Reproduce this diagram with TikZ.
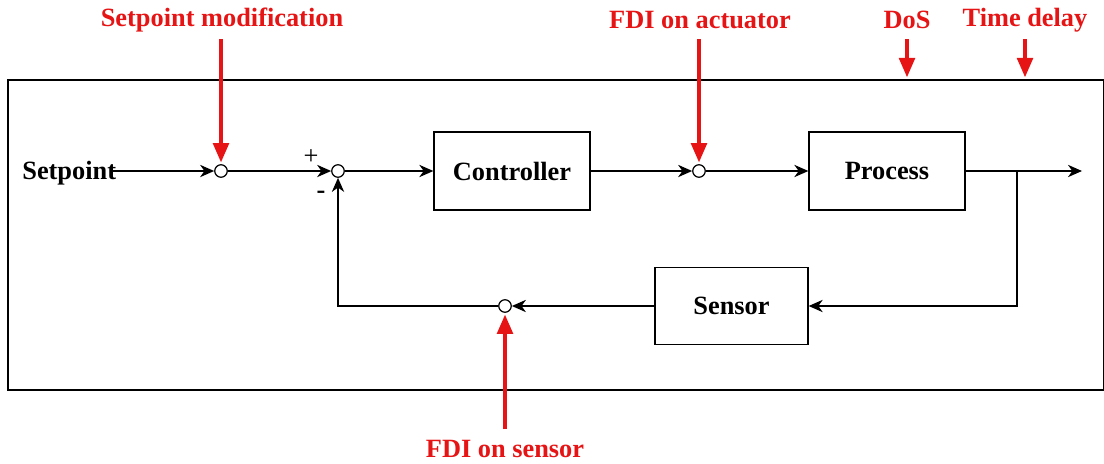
\documentclass[tikz,border=0pt]{standalone}
\usepackage{fontspec}
\setmainfont{Liberation Serif}
\usetikzlibrary{arrows.meta}
\definecolor{atk}{RGB}{230,20,20}
\begin{document}
\begin{tikzpicture}[x=0.02cm,y=-0.02cm,
  lbl/.style={font=\fontsize{15}{18}\selectfont\bfseries},
  atklbl/.style={lbl,text=atk},
  blk/.style={draw,line width=0.75pt,minimum width=3.12cm,minimum height=1.56cm,lbl},
  sumpt/.style={draw,circle,line width=0.7pt,minimum size=0.25cm,inner sep=0pt,fill=white},
  sig/.style={line width=0.75pt,-{Stealth[length=8pt,width=7pt,inset=2.5pt]}},
  atkarrow/.style={draw=atk,line width=1.8pt,-{Triangle[length=11pt,width=9pt]},shorten >=1pt}]
\useasboundingbox (0,0) rectangle (1104,463);
\draw[line width=0.75pt] (8,80) rectangle (1103.5,390);
% blocks
\node[blk] (ctrl) at (512,171) {Controller};
\node[blk] (proc) at (887,171) {Process};
\node[blk,minimum width=3.06cm,minimum height=1.54cm] (sens) at (731.5,306) {Sensor};
% summing points
\node[sumpt] (s1) at (221,171) {};
\node[sumpt] (s2) at (338,171) {};
\node[sumpt] (s3) at (699,171) {};
\node[sumpt] (s4) at (505,306) {};
% labels
\node[lbl,anchor=west,inner sep=0pt] (sp) at (22,173) {Setpoint};
\coordinate (spend) at (113,171);
\node[font=\fontsize{15}{18}\selectfont] (plus) at (311,157) {+};
\node[font=\fontsize{15}{18}\selectfont\bfseries] (minus) at (321,195) {-};
\coordinate (out) at (1082,171);
\coordinate (br) at (1017,171);
\coordinate (brd) at (1017,306);
\coordinate (fbc) at (338,306);
% signal flow
\draw[sig] (spend) -- (s1.west);
\draw[sig] (s1.east) -- (s2.west);
\draw[sig] (s2.east) -- (ctrl.west);
\draw[sig] (ctrl.east) -- (s3.west);
\draw[sig] (s3.east) -- (proc.west);
\draw[sig] (proc.east) -- (out);
\draw[sig] (br) -- (brd) -- (sens.east);
\draw[sig] (sens.west) -- (s4.east);
\draw[sig] (s4.west) -- (fbc) -- (s2.south);
% attacks
\node[atklbl] (a1) at (222,20) {Setpoint modification};
\node[atklbl] (a2) at (700,20) {FDI on actuator};
\node[atklbl] (a3) at (907,20) {DoS};
\node[atklbl] (a4) at (1025,20) {Time delay};
\node[atklbl] (a5) at (505,449) {FDI on sensor};
\coordinate (d3) at (907,79);
\coordinate (d4) at (1025,79);
\draw[atkarrow] (221,39) -- (s1.north);
\draw[atkarrow] (699,39) -- (s3.north);
\draw[atkarrow] (907,39) -- (d3);
\draw[atkarrow] (1025,39) -- (d4);
\draw[atkarrow] (505,429) -- (s4.south);
\end{tikzpicture}
\end{document}
